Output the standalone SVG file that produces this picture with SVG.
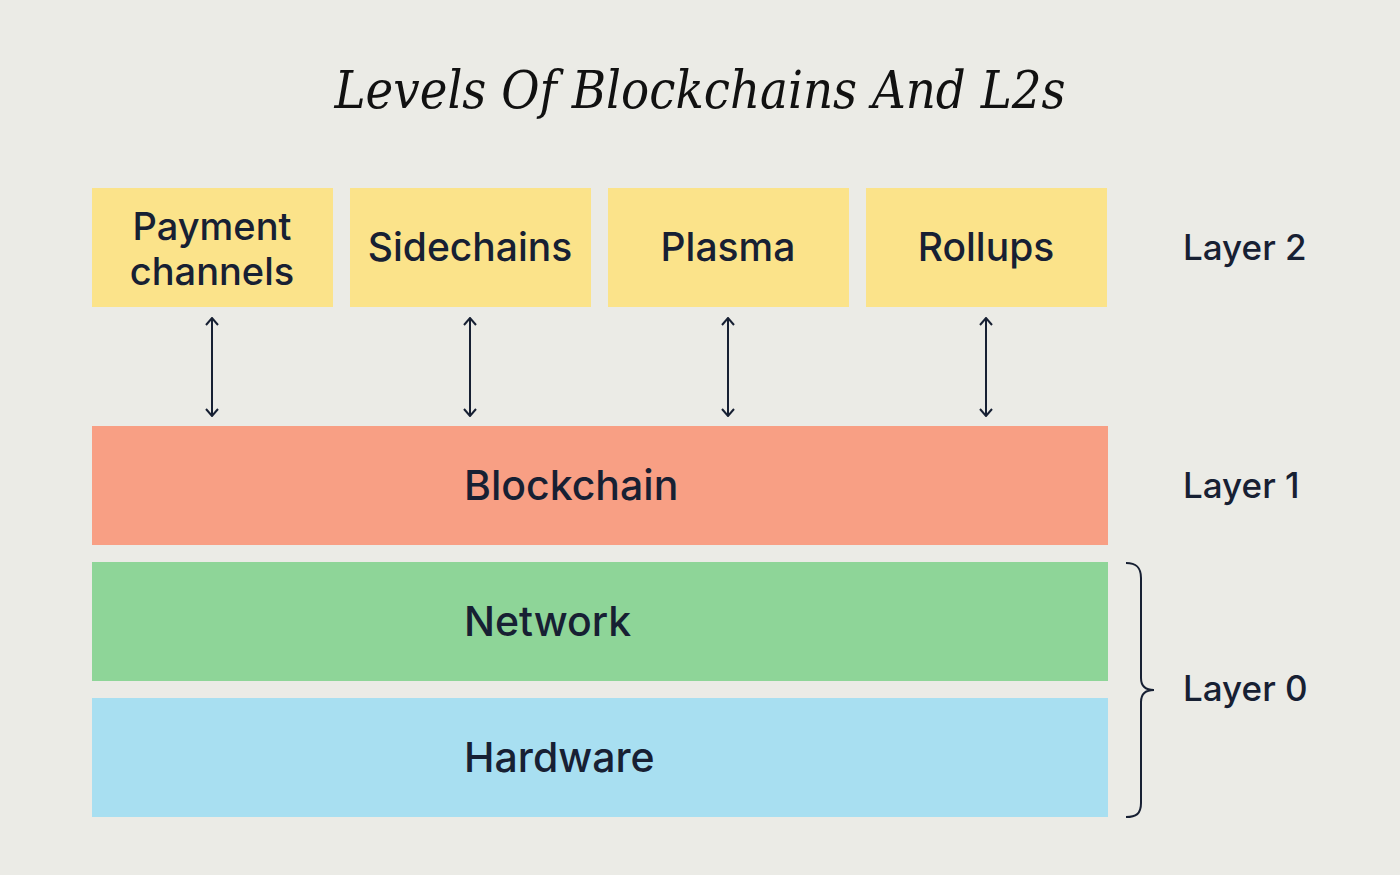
<svg xmlns="http://www.w3.org/2000/svg" width="1400" height="875" viewBox="0 0 1400 875">
<defs>
<style>
.bg{fill:#EBEBE6}
.l2{fill:#FBE38A}
.lbl{font-family:Inter,"Noto Sans","Liberation Sans",sans-serif;font-size:39px;fill:#172033;font-weight:500}
.pc{font-family:Inter,"Noto Sans","Liberation Sans",sans-serif;font-size:38px;fill:#172033;font-weight:500}
.big{font-family:Inter,"Noto Sans","Liberation Sans",sans-serif;font-size:41px;fill:#172033;font-weight:500}
.side{font-family:Inter,"Noto Sans","Liberation Sans",sans-serif;font-size:35px;fill:#172033;font-weight:500}
.title{font-family:"DejaVu Serif","Liberation Serif",serif;font-style:italic;font-stretch:condensed;font-size:52px;fill:#111}
.arr{stroke:#172033;stroke-width:2;fill:none}
</style>
<marker id="ah" viewBox="0 0 12 14" refX="11" refY="7" markerWidth="12" markerHeight="14" markerUnits="userSpaceOnUse" orient="auto-start-reverse">
<path d="M4,1 L11,7 L4,13" fill="none" stroke="#172033" stroke-width="2"/>
</marker>
</defs>
<rect class="bg" x="0" y="0" width="1400" height="875"/>
<text class="title" x="700" y="108" text-anchor="middle">Levels Of Blockchains And L2s</text>
<g id="payment"><rect class="l2" x="92" y="188" width="241" height="119"/><text class="pc" x="212" y="240" text-anchor="middle">Payment</text><text class="pc" x="212" y="285" text-anchor="middle">channels</text></g>
<g id="sidechains"><rect class="l2" x="350" y="188" width="241" height="119"/><text class="lbl" x="470" y="261" text-anchor="middle">Sidechains</text></g>
<g id="plasma"><rect class="l2" x="608" y="188" width="241" height="119"/><text class="lbl" x="728" y="261" text-anchor="middle">Plasma</text></g>
<g id="rollups"><rect class="l2" x="866" y="188" width="241" height="119"/><text class="lbl" x="986" y="261" text-anchor="middle">Rollups</text></g>
<g id="blockchain"><rect x="92" y="426" width="1016" height="119" fill="#F89F84"/><text class="big" x="464" y="500">Blockchain</text></g>
<g id="network"><rect x="92" y="562" width="1016" height="119" fill="#8ED598"/><text class="big" x="464" y="636">Network</text></g>
<g id="hardware"><rect x="92" y="698" width="1016" height="119" fill="#A8DFF1"/><text class="big" x="464" y="772">Hardware</text></g>
<g id="layer2"><text class="side" x="1183" y="260">Layer 2</text></g>
<g id="layer1"><text class="side" x="1183" y="498">Layer 1</text></g>
<g id="layer0"><text class="side" x="1183" y="701">Layer 0</text>
<path class="arr" d="M1126,563 C1136,563 1141,567 1141,578 L1141,678 C1141,686 1145,690 1154,690 C1145,690 1141,694 1141,702 L1141,803 C1141,814 1136,817 1126,817"/></g>
<g id="connectors">
<line class="arr" x1="212" y1="318" x2="212" y2="416" marker-start="url(#ah)" marker-end="url(#ah)"/>
<line class="arr" x1="470" y1="318" x2="470" y2="416" marker-start="url(#ah)" marker-end="url(#ah)"/>
<line class="arr" x1="728" y1="318" x2="728" y2="416" marker-start="url(#ah)" marker-end="url(#ah)"/>
<line class="arr" x1="986" y1="318" x2="986" y2="416" marker-start="url(#ah)" marker-end="url(#ah)"/>
</g>
</svg>
